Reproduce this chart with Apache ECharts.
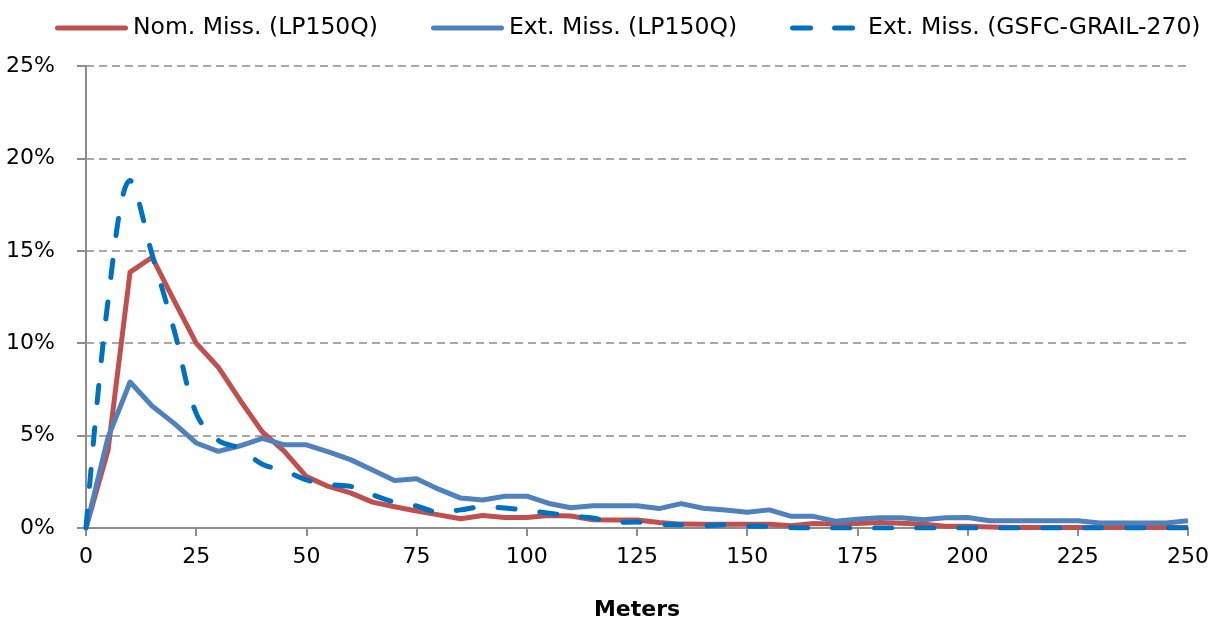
<!DOCTYPE html>
<html>
<head>
<meta charset="utf-8">
<script src="https://cdn.jsdelivr.net/npm/echarts@6/dist/echarts.min.js"></script>
<style>
html,body{margin:0;padding:0;background:#fff;}
#chart{width:1212px;height:626px;}
</style>
</head>
<body>
<div id="chart"></div>
<script>
const meters = [0,5,10,15,20,25,30,35,40,45,50,55,60,65,70,75,80,85,90,95,100,105,110,115,120,125,130,135,140,145,150,155,160,165,170,175,180,185,190,195,200,205,210,215,220,225,230,235,240,245,250];

const nomMissLP150Q = [0,4.2,13.85,14.65,12.3,10.0,8.7,6.9,5.2,4.15,2.78,2.25,1.9,1.4,1.15,0.92,0.71,0.5,0.68,0.57,0.57,0.68,0.65,0.45,0.43,0.43,0.3,0.21,0.2,0.2,0.2,0.2,0.12,0.24,0.22,0.24,0.3,0.26,0.2,0.1,0.09,0.05,0.03,0.03,0.03,0.03,0.03,0.03,0.03,0.03,0.03];

const extMissLP150Q = [0,4.9,7.9,6.6,5.66,4.6,4.15,4.45,4.85,4.5,4.5,4.12,3.7,3.14,2.57,2.66,2.1,1.62,1.52,1.72,1.72,1.33,1.1,1.2,1.2,1.2,1.05,1.32,1.07,0.97,0.85,0.98,0.63,0.63,0.37,0.48,0.56,0.55,0.45,0.55,0.57,0.39,0.39,0.39,0.39,0.39,0.27,0.27,0.27,0.27,0.39];

const extMissGSFC = [0,12.3,18.8,14.8,10.7,6.2,4.75,4.3,3.45,3.1,2.6,2.35,2.25,1.8,1.4,1.19,0.85,0.98,1.15,1.08,0.96,0.8,0.65,0.54,0.3,0.32,0.2,0.18,0.12,0.18,0.1,0.1,0.02,0,0,0,0,0,0,0,0,0,0,0,0,0,0,0,0,0,0];

const seriesNames = ['Nom. Miss. (LP150Q)','Ext. Miss. (LP150Q)','Ext. Miss. (GSFC-GRAIL-270)'];
const xTitle = 'Meters';

const pairs = arr => meters.map((m,i)=>[m, arr[i]]);
const FONT = 'DejaVu Sans';
const GREY = '#8c8c8c';

// legend icons (73 x 5 boxes)
const solidIcon = 'path://M2.5,0H70.5A2.5,2.5 0 0 1 70.5,5H2.5A2.5,2.5 0 0 1 2.5,0Z';
const dashIcon = 'path://M2.5,0H20.5A2.5,2.5 0 0 1 20.5,5H2.5A2.5,2.5 0 0 1 2.5,0Z' +
  'M44.5,0H62.5A2.5,2.5 0 0 1 62.5,5H44.5A2.5,2.5 0 0 1 44.5,0Z M0,0L73,0L73,0Z M0,5L73,5L73,5Z';

const chart = echarts.init(document.getElementById('chart'), null, {renderer:'canvas'});
chart.setOption({
  animation:false,
  backgroundColor:'#ffffff',
  legend:{
    top:11,
    left:50,
    itemWidth:73,
    itemHeight:5,
    itemGap:53,
    symbolKeepAspect:false,
    textStyle:{fontFamily:FONT,fontSize:23.5,color:'#000'},
    data:[
      {name:seriesNames[0],icon:solidIcon},
      {name:seriesNames[1],icon:solidIcon},
      {name:seriesNames[2],icon:dashIcon}
    ]
  },
  grid:{left:86,right:24,top:66,bottom:93,containLabel:false},
  xAxis:{
    type:'value',min:0,max:250,interval:25,
    name:xTitle,nameLocation:'middle',nameGap:71,
    nameTextStyle:{fontFamily:FONT,fontSize:22,fontWeight:'bold',color:'#000'},
    axisLine:{show:true,lineStyle:{color:GREY,width:2}},
    axisTick:{show:true,length:8,lineStyle:{color:GREY,width:2}},
    axisLabel:{margin:18,fontFamily:FONT,fontSize:22,color:'#000'},
    splitLine:{show:false}
  },
  yAxis:{
    type:'value',min:0,max:25,interval:5,
    axisLine:{show:true,lineStyle:{color:GREY,width:2}},
    axisTick:{show:true,length:9,lineStyle:{color:GREY,width:2}},
    axisLabel:{margin:31,fontFamily:FONT,fontSize:22,color:'#000',formatter:'{value}%'},
    splitLine:{show:true,lineStyle:{color:GREY,width:1.5,type:[8,5]}}
  },
  series:[
    {name:seriesNames[0],type:'line',data:pairs(nomMissLP150Q),symbol:'none',
     itemStyle:{color:'#C0504D'},
     lineStyle:{color:'#C0504D',width:5,join:'round'}},
    {name:seriesNames[1],type:'line',data:pairs(extMissLP150Q),symbol:'none',
     itemStyle:{color:'#4F81BD'},
     lineStyle:{color:'#4F81BD',width:5,join:'round'}},
    {name:seriesNames[2],type:'line',data:pairs(extMissGSFC),symbol:'none',smooth:0.35,
     itemStyle:{color:'#0070C0'},
     lineStyle:{color:'#0070C0',width:5,type:[17,25],cap:'round',join:'round'}}
  ]
});
</script>
</body>
</html>
